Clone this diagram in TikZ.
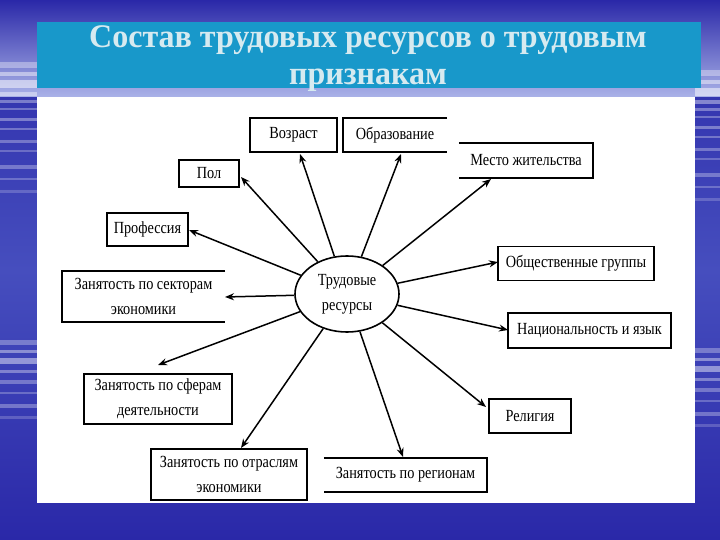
\documentclass[tikz,border=0pt]{standalone}
\usepackage{fontspec}
\setmainfont{Liberation Serif}
\newfontfamily\boxfont[FakeStretch=0.84]{Liberation Serif}
\newfontfamily\titlefont[FakeStretch=0.97]{Liberation Serif}
\usetikzlibrary{arrows.meta,shapes.geometric}
\definecolor{bgdark}{RGB}{42,40,168}
\definecolor{bgmid}{RGB}{70,78,190}
\definecolor{bglight}{RGB}{170,178,232}
\definecolor{titlebg}{RGB}{24,152,202}
\definecolor{titletxt}{RGB}{214,234,240}
\tikzset{
  lbl/.style={font=\boxfont\fontsize{17}{25}\selectfont, align=center, inner sep=0pt},
  bx/.style={lbl, draw=black, line width=1.6pt},
  edge/.style={draw=black, line width=1.6pt},
  arr/.style={draw=black, line width=1.5pt, -{Stealth[length=9pt,width=7pt]}},
  streak/.style={fill=white, opacity=#1},
  ttl/.style={font=\titlefont\bfseries\fontsize{33}{37}\selectfont, text=titletxt, inner sep=0pt, anchor=base},
}
\begin{document}
\begin{tikzpicture}[x=1pt,y=-1pt]
\useasboundingbox (0,0) rectangle (720,540);
% background
\shade[top color=bgdark, bottom color=bgdark, middle color=bgmid] (0,0) rectangle (720,540);
\shade[top color=bgdark, bottom color=bglight] (0,0) rectangle (720,97);
% streaks
\foreach \yy/\hh/\oo in {62/6/0.35,72/4/0.45,80/8/0.5,92/4/0.4,100/3/0.35,108/2/0.3,118/3/0.35,128/2/0.3,140/3/0.3,150/2/0.25,165/4/0.3,178/2/0.25,190/3/0.2,340/5/0.3,350/3/0.4,358/6/0.45,370/3/0.35,380/4/0.3,392/2/0.25,404/4/0.3,416/3/0.2}{
  \fill[streak=\oo] (0,\yy) rectangle (37,\yy+\hh);
  \fill[streak=\oo] (695,\yy+8) rectangle (720,\yy+8+\hh);
}
% title
\node[fill=titlebg, minimum width=664pt, minimum height=66pt, inner sep=0pt] (titlebox) at (369,55) {};
\node[ttl] (title1) at (368,48) {Состав трудовых ресурсов о трудовым};
\node[ttl] (title2) at (368,85) {признакам};
% panel
\node[fill=white, minimum width=658pt, minimum height=406pt, inner sep=0pt] (panel) at (366,300) {};
% centre
\node[ellipse, draw=black, line width=1.6pt, minimum width=104pt, minimum height=76pt, inner sep=0pt, font=\boxfont\fontsize{17}{25}\selectfont, align=center] (tr) at (347,294) {Трудовые\\ресурсы};
% boxes
\node[bx, minimum width=87pt, minimum height=34pt] (voz) at (293.5,135) {Возраст};
\node[lbl, minimum width=104pt, minimum height=34pt] (obr) at (395,135) {Образование};
\draw[edge] (obr.north east) -- (obr.north west) -- (obr.south west) -- (obr.south east);
\node[lbl, minimum width=134pt, minimum height=35pt] (mes) at (526,160.5) {Место жительства};
\draw[edge] (mes.north west) -- (mes.north east) -- (mes.south east) -- (mes.south west);
\node[bx, minimum width=60pt, minimum height=27pt] (pol) at (209,173.5) {Пол};
\node[bx, minimum width=81pt, minimum height=33pt] (prof) at (147.5,229.5) {Профессия};
\node[lbl, minimum width=163pt, minimum height=51pt] (sek) at (143.5,296.5) {Занятость по секторам\\экономики};
\draw[edge] (sek.north east) -- (sek.north west) -- (sek.south west) -- (sek.south east);
\node[bx, minimum width=156pt, minimum height=34pt] (obs) at (576,263.5) {Общественные группы};
\node[bx, minimum width=163pt, minimum height=35pt] (nat) at (589.5,330.5) {Национальность и язык};
\node[bx, minimum width=148pt, minimum height=50pt] (sfe) at (158,399) {Занятость по сферам\\деятельности};
\node[bx, minimum width=82pt, minimum height=34pt] (rel) at (530,416) {Религия};
\node[bx, minimum width=156pt, minimum height=51pt] (otr) at (229,474.5) {Занятость по отраслям\\экономики};
\node[lbl, minimum width=163pt, minimum height=34pt] (reg) at (405.5,475) {Занятость по регионам};
\draw[edge] (reg.north west) -- (reg.north east) -- (reg.south east) -- (reg.south west);
% arrow tips
\coordinate (tVoz) at (300,154);
\coordinate (tObr) at (401,154);
\coordinate (tMes) at (491,179);
\coordinate (tPol) at (241,177);
\coordinate (tProf) at (189,230);
\coordinate (tSek) at (225,297);
\coordinate (tSfe) at (158,365);
\coordinate (tOtr) at (241,448);
\coordinate (tReg) at (403,457);
\coordinate (tRel) at (486,407);
\coordinate (tNat) at (508,330);
\coordinate (tObs) at (498,262);
\foreach \t in {tVoz,tObr,tMes,tPol,tProf,tSek,tSfe,tOtr,tReg,tRel,tNat,tObs}
  \draw[arr] (tr) -- (\t);
\end{tikzpicture}
\end{document}
